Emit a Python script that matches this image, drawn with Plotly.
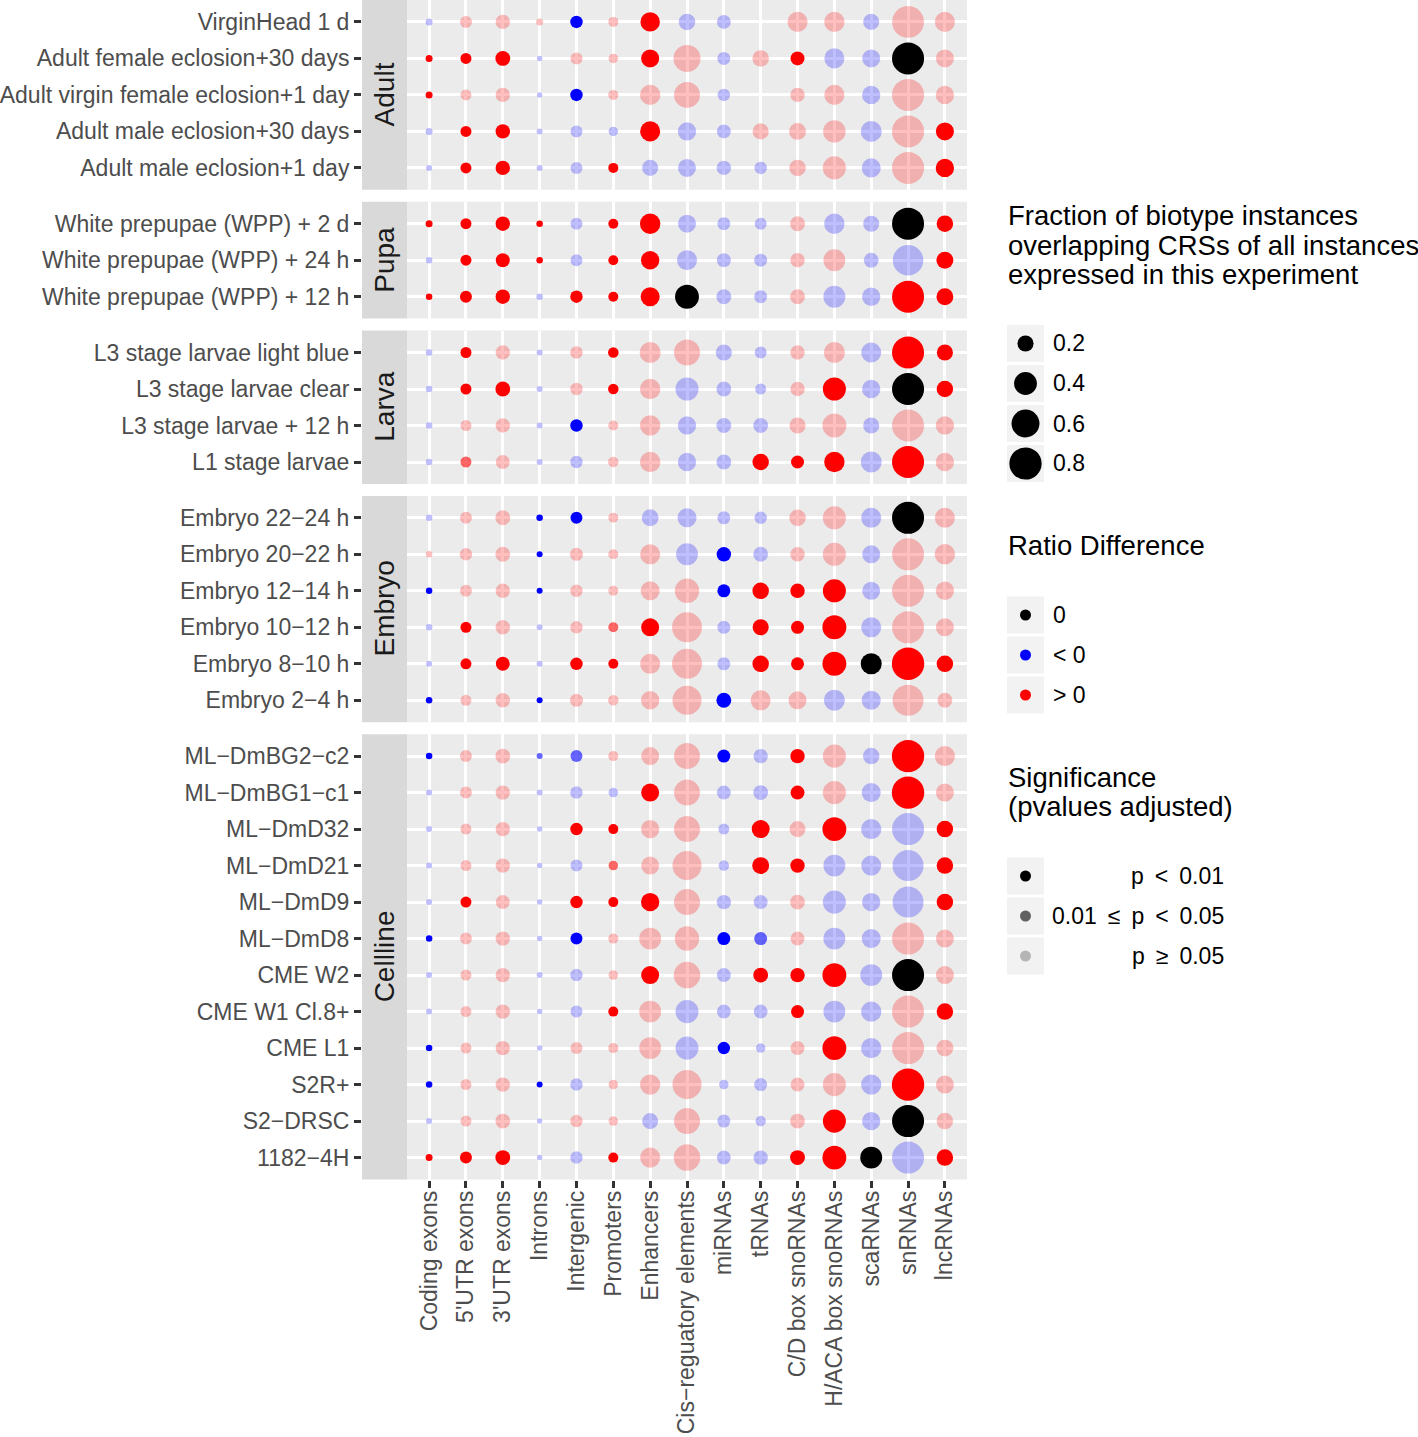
import math
import plotly.graph_objects as go

W, H = 1418, 1437
FONT = "Liberation Sans, Arial, Helvetica, sans-serif"

# ---------------- data ----------------
BIOTYPES = ["Coding exons", "5'UTR exons", "3'UTR exons", "Introns", "Intergenic",
            "Promoters", "Enhancers", "Cis\u2212reguatory elements", "miRNAs", "tRNAs",
            "C/D box snoRNAs", "H/ACA box snoRNAs", "scaRNAs", "snRNAs", "lncRNAs"]

FACETS = ["Adult", "Pupa", "Larva", "Embryo", "Cellline"]

SAMPLES_ADULT = ["VirginHead 1 d", "Adult female eclosion+30 days",
                 "Adult virgin female eclosion+1 day", "Adult male eclosion+30 days",
                 "Adult male eclosion+1 day"]
SAMPLES_PUPA = ["White prepupae (WPP) + 2 d", "White prepupae (WPP) + 24 h",
                "White prepupae (WPP) + 12 h"]
SAMPLES_LARVA = ["L3 stage larvae light blue", "L3 stage larvae clear",
                 "L3 stage larvae + 12 h", "L1 stage larvae"]
SAMPLES_EMBRYO = ["Embryo 22\u221224 h", "Embryo 20\u221222 h", "Embryo 12\u221214 h",
                  "Embryo 10\u221212 h", "Embryo 8\u221210 h", "Embryo 2\u22124 h"]
SAMPLES_CELLLINE = ["ML\u2212DmBG2\u2212c2", "ML\u2212DmBG1\u2212c1", "ML\u2212DmD32",
                    "ML\u2212DmD21", "ML\u2212DmD9", "ML\u2212DmD8", "CME W2", "CME W1 Cl.8+",
                    "CME L1", "S2R+", "S2\u2212DRSC", "1182\u22124H"]

# fraction of biotype instances overlapping CRSs (None = not expressed)
FRACTION_ADULT = [
    [0.038, 0.11, 0.16, 0.038, 0.12, 0.077, 0.29, 0.21, 0.15, None, 0.31, 0.32, 0.20, 0.78, 0.31],
    [0.038, 0.093, 0.17, 0.023, 0.11, 0.069, 0.25, 0.56, 0.13, 0.21, 0.15, 0.31, 0.25, 0.79, 0.25],
    [0.038, 0.093, 0.16, 0.023, 0.12, 0.077, 0.32, 0.52, 0.12, None, 0.16, 0.31, 0.26, 0.79, 0.26],
    [0.038, 0.093, 0.16, 0.028, 0.11, 0.069, 0.31, 0.26, 0.15, 0.20, 0.22, 0.39, 0.34, 0.79, 0.25],
    [0.028, 0.093, 0.16, 0.028, 0.11, 0.077, 0.20, 0.25, 0.16, 0.12, 0.21, 0.41, 0.28, 0.79, 0.26],
]
FRACTION_PUPA = [
    [0.038, 0.093, 0.16, 0.033, 0.11, 0.077, 0.32, 0.25, 0.13, 0.11, 0.17, 0.32, 0.20, 0.79, 0.21],
    [0.033, 0.093, 0.15, 0.033, 0.11, 0.077, 0.26, 0.31, 0.15, 0.13, 0.16, 0.37, 0.17, 0.72, 0.22],
    [0.033, 0.11, 0.16, 0.033, 0.12, 0.077, 0.28, 0.44, 0.17, 0.13, 0.17, 0.37, 0.26, 0.79, 0.22],
]
FRACTION_LARVA = [
    [0.033, 0.093, 0.16, 0.028, 0.12, 0.085, 0.34, 0.52, 0.20, 0.11, 0.16, 0.34, 0.31, 0.79, 0.20],
    [0.033, 0.093, 0.17, 0.028, 0.12, 0.085, 0.32, 0.41, 0.17, 0.093, 0.16, 0.41, 0.26, 0.79, 0.21],
    [0.033, 0.093, 0.16, 0.028, 0.12, 0.077, 0.32, 0.26, 0.17, 0.17, 0.20, 0.44, 0.20, 0.79, 0.26],
    [0.033, 0.093, 0.15, 0.028, 0.12, 0.085, 0.32, 0.26, 0.17, 0.21, 0.13, 0.32, 0.34, 0.79, 0.26],
]
FRACTION_EMBRYO = [
    [0.033, 0.11, 0.17, 0.033, 0.11, 0.077, 0.22, 0.28, 0.13, 0.12, 0.21, 0.41, 0.31, 0.79, 0.31],
    [0.033, 0.12, 0.17, 0.028, 0.13, 0.077, 0.31, 0.37, 0.16, 0.17, 0.16, 0.41, 0.25, 0.79, 0.32],
    [0.033, 0.11, 0.16, 0.028, 0.12, 0.077, 0.28, 0.46, 0.13, 0.21, 0.16, 0.41, 0.25, 0.79, 0.26],
    [0.033, 0.093, 0.16, 0.028, 0.12, 0.077, 0.25, 0.69, 0.13, 0.20, 0.13, 0.44, 0.31, 0.79, 0.25],
    [0.028, 0.093, 0.15, 0.028, 0.12, 0.077, 0.31, 0.69, 0.13, 0.21, 0.13, 0.44, 0.34, 0.81, 0.21],
    [0.033, 0.093, 0.16, 0.028, 0.13, 0.085, 0.26, 0.65, 0.17, 0.31, 0.25, 0.34, 0.28, 0.74, 0.17],
]
FRACTION_CELLLINE = [
    [0.033, 0.11, 0.17, 0.028, 0.11, 0.077, 0.25, 0.52, 0.13, 0.16, 0.16, 0.41, 0.21, 0.81, 0.32],
    [0.028, 0.11, 0.16, 0.028, 0.12, 0.069, 0.25, 0.52, 0.15, 0.17, 0.15, 0.41, 0.28, 0.81, 0.25],
    [0.028, 0.093, 0.16, 0.023, 0.12, 0.077, 0.26, 0.52, 0.093, 0.25, 0.20, 0.44, 0.32, 0.79, 0.21],
    [0.028, 0.093, 0.16, 0.023, 0.11, 0.069, 0.25, 0.65, 0.085, 0.22, 0.16, 0.37, 0.31, 0.74, 0.21],
    [0.028, 0.093, 0.15, 0.023, 0.12, 0.077, 0.26, 0.52, 0.16, 0.15, 0.17, 0.41, 0.26, 0.74, 0.21],
    [0.033, 0.11, 0.16, 0.023, 0.11, 0.077, 0.37, 0.46, 0.13, 0.13, 0.15, 0.37, 0.28, 0.79, 0.25],
    [0.028, 0.093, 0.16, 0.028, 0.12, 0.069, 0.25, 0.54, 0.15, 0.17, 0.16, 0.44, 0.37, 0.79, 0.25],
    [0.028, 0.093, 0.16, 0.023, 0.11, 0.077, 0.37, 0.41, 0.15, 0.15, 0.13, 0.37, 0.32, 0.79, 0.21],
    [0.033, 0.093, 0.16, 0.023, 0.11, 0.077, 0.37, 0.41, 0.12, 0.069, 0.15, 0.44, 0.32, 0.79, 0.22],
    [0.033, 0.093, 0.16, 0.028, 0.12, 0.069, 0.32, 0.65, 0.069, 0.13, 0.15, 0.41, 0.32, 0.81, 0.25],
    [0.028, 0.093, 0.17, 0.023, 0.12, 0.069, 0.20, 0.52, 0.13, 0.085, 0.17, 0.41, 0.26, 0.79, 0.21],
    [0.038, 0.11, 0.17, 0.023, 0.12, 0.077, 0.31, 0.54, 0.15, 0.16, 0.17, 0.44, 0.37, 0.79, 0.21],
]

# ratio difference sign per cell: R = "> 0", B = "< 0", K = "0", - = none
RATIO_ADULT = ["BRRRBRRBB-RRBRR", "RRRBRRRRBRRBBKR", "RRRBBRRRB-RRBRR",
               "BRRBBBRBBRRRBRR", "BRRBBRBBBBRRBRR"]
RATIO_PUPA = ["RRRRBRRBBBRBBKR", "BRRRBRRBBBRRBBR", "RRRBRRRKBBRBBRR"]
RATIO_LARVA = ["BRRBRRRRBBRRBRR", "BRRBRRRBBBRRBKR", "BRRBBRRBBBRRBRR",
               "BRRBBRRBBRRRBRR"]
RATIO_EMBRYO = ["BRRBBRBBBBRRBKR", "RRRBRRRBBBRRBRR", "BRRBRRRRBRRRBRR",
                "BRRBRRRRBRRRBRR", "BRRBRRRRBRRRKRR", "BRRBRRRRBRRBBRR"]
RATIO_CELLLINE = ["BRRBBRRRBBRRBRR", "BRRBBBRRBBRRBRR", "BRRBRRRRBRRRBBR",
                  "BRRBBRRRBRRBBBR", "BRRBRRRRBBRBBBR", "BRRBBRRRBBRBBRR",
                  "BRRBBRRRBRRRBKR", "BRRBBRRBBBRBBRR", "BRRBRRRBBBRRBRR",
                  "BRRBBRRRBBRRBRR", "BRRBRRBRBBRRBKR", "RRRBBRRRBBRRKBR"]

# adjusted p-value class: 1 = p < 0.01, 2 = 0.01 <= p < 0.05, 3 = p >= 0.05
SIGNIF_ADULT = ["333313133-33333", "111333133313313", "133313333-33333",
                "311333133333331", "311331333333331"]
SIGNIF_PUPA = ["111131133333311", "311131133333331", "111311113333311"]
SIGNIF_LARVA = ["313331333333311", "311331333331311", "333313333333333",
                "323333333111313"]
SIGNIF_EMBRYO = ["333113333333313", "333133331333333", "133133331111333",
                 "313332133111333", "311311333111111", "133133331333333"]
SIGNIF_CELLLINE = ["133223331313313", "333333133313313", "333311333131331",
                   "333332333113331", "313311133333331", "133313331233333",
                   "333333133111313", "333331333313331", "133333331331333",
                   "133133333333313", "333333333331313", "111331333311131"]

SIZE_BREAKS = [0.2, 0.4, 0.6, 0.8]
RATIO_LABELS = ["0", "< 0", "> 0"]
RATIO_KEYS = ["K", "B", "R"]
SP = "\u00a0\u2009"
SIGNIF_LABELS = [f"p{SP}<{SP}0.01", f"0.01{SP}\u2264{SP}p{SP}<{SP}0.05", f"p{SP}\u2265{SP}0.05"]
SIGNIF_KEYS = ["1", "2", "3"]

PANELS = [
    (SAMPLES_ADULT, FRACTION_ADULT, RATIO_ADULT, SIGNIF_ADULT),
    (SAMPLES_PUPA, FRACTION_PUPA, RATIO_PUPA, SIGNIF_PUPA),
    (SAMPLES_LARVA, FRACTION_LARVA, RATIO_LARVA, SIGNIF_LARVA),
    (SAMPLES_EMBRYO, FRACTION_EMBRYO, RATIO_EMBRYO, SIGNIF_EMBRYO),
    (SAMPLES_CELLLINE, FRACTION_CELLLINE, RATIO_CELLLINE, SIGNIF_CELLLINE),
]

# ---------------- style ----------------
RGB = {"R": (255, 0, 0), "B": (0, 0, 255), "K": (0, 0, 0)}
ALPHA = {"1": 1.0, "2": 0.6, "3": 0.25}
SIZE_K = 1300.0


def dot_size(v):
    return math.sqrt(SIZE_K * v)


def rgba(code, sig):
    r, g, b = RGB[code]
    return f"rgba({r},{g},{b},{ALPHA[sig]})"


PX0, PX1 = 407, 967          # panel x extent (pixels)
STRIP0 = 362                 # strip left edge
UNIT, GAP = 36.5, 12         # row unit and gap between facets (pixels)
PANEL_BG = "#EBEBEB"
STRIP_BG = "#D9D9D9"
AXIS_TXT = "#4D4D4D"
GRID_W = 2.8


def px_x(p):
    return p / W


def px_y(p):
    return 1 - p / H


fig = go.Figure()
shapes = []
annotations = []
layout = {}

top = 0.0
n_cols = len(BIOTYPES)
for i, (samples, frac, ratio, sig) in enumerate(PANELS):
    k = i + 1
    n = len(samples)
    bottom = top + (n + 0.2) * UNIT
    xs, ys, sizes, colors = [], [], [], []
    for r, s in enumerate(samples):
        for c, bt in enumerate(BIOTYPES):
            v = frac[r][c]
            if v is None or ratio[r][c] == "-":
                continue
            xs.append(bt)
            ys.append(s)
            sizes.append(dot_size(v))
            colors.append(rgba(ratio[r][c], sig[r][c]))
    xa = "x" if k == 1 else f"x{k}"
    ya = "y" if k == 1 else f"y{k}"
    fig.add_trace(go.Scatter(x=xs, y=ys, mode="markers", xaxis=xa, yaxis=ya,
                             marker=dict(size=sizes, color=colors, opacity=1,
                                         line=dict(width=0)),
                             showlegend=False, hoverinfo="skip"))
    last = (k == len(PANELS))
    layout["xaxis" if k == 1 else f"xaxis{k}"] = dict(
        domain=[px_x(PX0), px_x(PX1)], anchor=ya, type="category",
        categoryorder="array", categoryarray=BIOTYPES,
        tickmode="array", tickvals=BIOTYPES, ticktext=BIOTYPES,
        range=[-0.6, n_cols - 0.4], showgrid=True, gridcolor="white", gridwidth=GRID_W,
        zeroline=False, showline=False, showticklabels=last,
        ticks="outside" if last else "", ticklen=7, tickwidth=GRID_W, tickcolor="#333333",
        tickangle=-90, ticklabelstandoff=-6,
        tickfont=dict(size=23, color=AXIS_TXT, family=FONT),
        automargin=False, fixedrange=True)
    layout["yaxis" if k == 1 else f"yaxis{k}"] = dict(
        domain=[px_y(bottom), px_y(top)], anchor="free", position=px_x(STRIP0 - 1),
        type="category", categoryorder="array", categoryarray=samples,
        tickmode="array", tickvals=samples, ticktext=samples,
        range=[n - 0.4, -0.6], showgrid=True, gridcolor="white", gridwidth=GRID_W,
        zeroline=False, showline=False, ticks="outside", ticklen=7, tickwidth=GRID_W,
        tickcolor="#333333", tickfont=dict(size=23, color=AXIS_TXT, family=FONT),
        automargin=False, fixedrange=True)
    # panel background
    shapes.append(dict(type="rect", xref="paper", yref="paper", layer="below",
                       x0=px_x(PX0), x1=px_x(PX1), y0=px_y(bottom), y1=px_y(top),
                       fillcolor=PANEL_BG, line=dict(width=0)))
    # strip
    shapes.append(dict(type="rect", xref="paper", yref="paper", layer="below",
                       x0=px_x(STRIP0), x1=px_x(PX0), y0=px_y(bottom), y1=px_y(top),
                       fillcolor=STRIP_BG, line=dict(width=0)))
    annotations.append(dict(text=FACETS[i], xref="paper", yref="paper",
                            x=px_x((STRIP0 + PX0) / 2), y=px_y((top + bottom) / 2),
                            textangle=-90, showarrow=False, xanchor="center", yanchor="middle",
                            font=dict(size=28, color="#1A1A1A", family=FONT)))
    top = bottom + GAP

# ---------------- legend (drawn on a pixel overlay axis) ----------------
LEG_X = 1006          # legend left
KEY_X0, KEY_X1 = 1007, 1044
KEY_H, KEY_STEP = 37, 40
LABEL_X = 1051
TITLE_FS, LABEL_FS = 27.5, 23
LINE_H = 30

legend_blocks = [
    dict(title=["Fraction of biotype instances", "overlapping CRSs of all instances",
                "expressed in this experiment"], title_y=215, key_y=343.5,
         labels=[f"{b:.1f}" for b in SIZE_BREAKS],
         sizes=[dot_size(b) for b in SIZE_BREAKS],
         colors=["rgba(0,0,0,1)"] * len(SIZE_BREAKS), align="left"),
    dict(title=["Ratio Difference"], title_y=545, key_y=615,
         labels=RATIO_LABELS, sizes=[11] * 3,
         colors=[rgba(c, "1") for c in RATIO_KEYS], align="left"),
    dict(title=["Significance", "(pvalues adjusted)"], title_y=777, key_y=876,
         labels=SIGNIF_LABELS, sizes=[11] * 3,
         colors=[rgba("K", s) for s in SIGNIF_KEYS], align="right"),
]

lx, ly, ls, lc = [], [], [], []
for blk in legend_blocks:
    for j, line in enumerate(blk["title"]):
        annotations.append(dict(text=line, xref="paper", yref="paper",
                                x=px_x(LEG_X), y=px_y(blk["title_y"] + j * LINE_H),
                                xanchor="left", yanchor="middle", showarrow=False,
                                font=dict(size=TITLE_FS, color="black", family=FONT)))
    for j, lab in enumerate(blk["labels"]):
        cy = blk["key_y"] + j * KEY_STEP
        shapes.append(dict(type="rect", xref="x6", yref="y6", layer="below",
                           x0=KEY_X0, x1=KEY_X1, y0=cy - KEY_H / 2, y1=cy + KEY_H / 2,
                           fillcolor="#F2F2F2", line=dict(width=0)))
        lx.append((KEY_X0 + KEY_X1) / 2)
        ly.append(cy)
        ls.append(blk["sizes"][j])
        lc.append(blk["colors"][j])
        if blk["align"] == "left":
            annotations.append(dict(text=lab, xref="paper", yref="paper",
                                    x=px_x(LABEL_X), y=px_y(cy), xanchor="left",
                                    yanchor="middle", showarrow=False,
                                    font=dict(size=LABEL_FS, color="black", family=FONT)))
        else:
            annotations.append(dict(text=lab, xref="paper", yref="paper",
                                    x=px_x(1226), y=px_y(cy), xanchor="right",
                                    yanchor="middle", showarrow=False,
                                    font=dict(size=LABEL_FS, color="black", family=FONT)))

fig.add_trace(go.Scatter(x=lx, y=ly, mode="markers", xaxis="x6", yaxis="y6",
                         marker=dict(size=ls, color=lc, opacity=1, line=dict(width=0)),
                         showlegend=False, hoverinfo="skip"))
layout["xaxis6"] = dict(domain=[0, 1], range=[0, W], visible=False, anchor="y6",
                        fixedrange=True)
layout["yaxis6"] = dict(domain=[0, 1], range=[H, 0], visible=False, anchor="x6",
                        fixedrange=True)

fig.update_layout(
    width=W, height=H, margin=dict(l=0, r=0, t=0, b=0, autoexpand=False),
    paper_bgcolor="white", plot_bgcolor="rgba(0,0,0,0)",
    font=dict(family=FONT, color="black"),
    showlegend=False, shapes=shapes, annotations=annotations, template="none",
    **layout,
)

fig.write_html("out.html", config={"displayModeBar": False},
               post_script="document.body.style.margin='0px';"
                           "document.body.style.overflow='hidden';")
